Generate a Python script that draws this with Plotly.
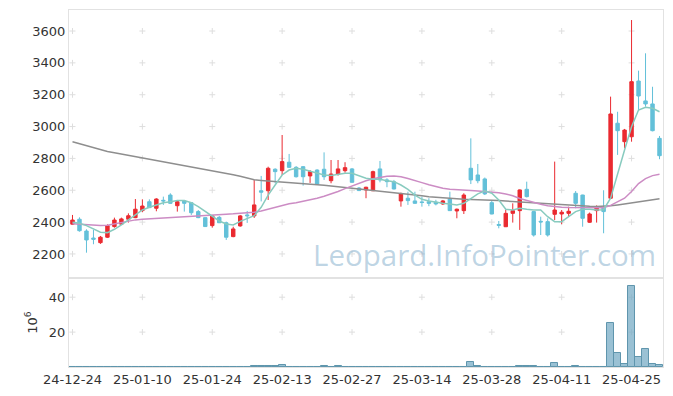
import plotly.graph_objects as go

dates = ["24-12-24","24-12-26","24-12-27","24-12-30","25-01-02","25-01-03","25-01-06","25-01-07","25-01-08","25-01-09",
         "25-01-10","25-01-13","25-01-14","25-01-15","25-01-16","25-01-17","25-01-20","25-01-21","25-01-22","25-01-23",
         "25-01-24","25-01-31","25-02-03","25-02-04","25-02-05","25-02-06","25-02-07","25-02-10","25-02-11","25-02-12",
         "25-02-13","25-02-14","25-02-17","25-02-18","25-02-19","25-02-20","25-02-21","25-02-24","25-02-25","25-02-26",
         "25-02-27","25-02-28","25-03-04","25-03-05","25-03-06","25-03-07","25-03-10","25-03-11","25-03-12","25-03-13",
         "25-03-14","25-03-17","25-03-18","25-03-19","25-03-20","25-03-21","25-03-24","25-03-25","25-03-26","25-03-27",
         "25-03-28","25-03-31","25-04-01","25-04-02","25-04-03","25-04-04","25-04-07","25-04-08","25-04-09","25-04-10",
         "25-04-11","25-04-14","25-04-15","25-04-16","25-04-17","25-04-18","25-04-21","25-04-22","25-04-23","25-04-24",
         "25-04-25","25-04-28","25-04-29","25-04-30","25-05-02"]

open_ = [2387,2418,2344,2300,2271,2305,2372,2387,2418,2428,
         2472,2528,2487,2537,2570,2503,2533,2522,2466,2428,
         2378,2430,2396,2309,2376,2445,2439,2597,2597,2732,
         2723,2776,2744,2748,2690,2727,2732,2660,2700,2723,
         2734,2614,2602,2597,2734,2665,2654,2533,2550,2533,
         2527,2528,2525,2514,2545,2470,2472,2738,2696,2671,
         2522,2385,2371,2455,2472,2606,2466,2405,2403,2449,
         2451,2455,2581,2570,2399,2472,2493,2550,3021,2905,
         2936,3286,3161,3142,2926]
high = [2445,2430,2355,2351,2313,2386,2428,2428,2455,2545,
        2543,2543,2550,2560,2581,2539,2539,2525,2476,2430,
        2445,2439,2403,2371,2445,2470,2665,2690,2748,2738,
        2947,2828,2752,2752,2727,2732,2838,2790,2790,2776,
        2740,2620,2622,2723,2784,2675,2665,2585,2591,2591,
        2560,2550,2540,2539,2591,2485,2581,2926,2765,2680,
        2539,2407,2476,2518,2605,2654,2470,2434,2424,2780,
        2476,2497,2595,2572,2460,2505,2600,3188,3093,2985,
        3669,3351,3460,3250,2941]
low = [2385,2340,2208,2261,2263,2300,2365,2385,2397,2425,
       2462,2488,2468,2508,2515,2466,2466,2445,2425,2370,
       2365,2394,2288,2305,2371,2395,2426,2530,2539,2644,
       2696,2740,2680,2629,2646,2636,2665,2644,2692,2710,
       2648,2595,2550,2595,2650,2619,2605,2497,2508,2515,
       2497,2500,2505,2508,2470,2424,2451,2639,2644,2570,
       2449,2361,2369,2397,2351,2555,2309,2319,2309,2413,
       2387,2434,2487,2371,2395,2397,2330,2545,2822,2864,
       2905,3104,3125,2970,2795]
close = [2413,2346,2288,2292,2305,2378,2413,2420,2440,2481,
         2501,2491,2545,2533,2518,2528,2518,2459,2428,2372,
         2439,2396,2305,2357,2439,2440,2508,2588,2738,2717,
         2780,2744,2685,2685,2717,2638,2685,2702,2734,2742,
         2650,2598,2619,2717,2665,2654,2608,2577,2535,2518,
         2523,2518,2514,2533,2472,2481,2570,2665,2660,2577,
         2451,2380,2455,2472,2602,2560,2319,2401,2319,2476,
         2462,2468,2518,2424,2451,2493,2466,3079,2974,2978,
         3282,3192,3142,2974,2817]

ma5 = [2399,2393,2378,2355,2336,2334,2355,2382,2413,2445,
       2476,2493,2508,2522,2528,2535,2535,2522,2497,2466,
       2434,2407,2388,2382,2405,2425,2440,2493,2570,2633,
       2696,2727,2738,2732,2721,2707,2696,2692,2700,2707,
       2707,2690,2675,2669,2669,2660,2654,2633,2606,2570,
       2543,2533,2525,2518,2514,2508,2518,2550,2577,2596,
       2581,2539,2481,2476,2487,2481,2476,2476,2434,2403,
       2403,2434,2466,2481,2481,2476,2478,2550,2707,2853,
       2999,3104,3121,3115,3093]
ma20 = [2390,2387,2384,2381,2378,2380,2388,2398,2408,2414,
        2418,2421,2424,2427,2430,2433,2435,2438,2441,2443,
        2445,2448,2450,2452,2455,2458,2462,2470,2482,2495,
        2506,2515,2522,2530,2540,2550,2562,2575,2592,2610,
        2627,2645,2660,2672,2682,2688,2690,2685,2674,2663,
        2648,2635,2623,2613,2606,2602,2600,2598,2596,2592,
        2590,2585,2577,2565,2548,2535,2524,2512,2503,2497,
        2493,2491,2490,2489,2488,2488,2490,2505,2525,2550,
        2592,2642,2673,2692,2700]
ma120 = [2905,2892,2880,2868,2855,2843,2835,2827,2820,2812,
         2805,2797,2788,2778,2770,2762,2754,2746,2738,2730,
         2722,2714,2706,2698,2688,2676,2666,2662,2659,2656,
         2653,2650,2647,2644,2640,2635,2631,2626,2622,2618,
         2614,2609,2604,2599,2594,2589,2585,2580,2575,2570,
         2565,2560,2556,2552,2549,2546,2544,2542,2541,2540,
         2538,2535,2532,2529,2526,2523,2520,2517,2514,2511,
         2508,2505,2503,2501,2499,2498,2498,2502,2508,2515,
         2522,2529,2535,2541,2547]

volume = [0,0,0,0,0,0,0,0,0,0,
          0,0,0,0,0,0,0,0,0,0,
          0,0,0,0,0,0,0.7,0.7,0.7,0.7,
          1.3,0,0,0,0,0,0.7,0,0.7,0,
          0,0,0,0,0,0,0,0,0,0,
          0,0,0,0,0,0,0,3.0,0.7,0,
          0,0,0,0,0.7,0.7,0.7,0,0,2.5,
          0,0,0.7,0,0,0,0,25.1,8.0,1.7,
          46.5,5.7,10.3,1.7,1.3]

price_ticks = [2200, 2400, 2600, 2800, 3000, 3200, 3400, 3600]
volume_ticks = [20, 40]
tick_dates = dates[::10]

RED = "#ea2a30"
BLUE = "#63c0d9"
FONT = "DejaVu Sans"
TXT = "#333333"

fig = go.Figure()

fig.add_trace(go.Candlestick(
    x=dates, open=open_, high=high, low=low, close=close,
    increasing=dict(line=dict(color=RED, width=1), fillcolor=RED),
    decreasing=dict(line=dict(color=BLUE, width=1), fillcolor=BLUE),
    whiskerwidth=0, showlegend=False, xaxis="x", yaxis="y"))

fig.add_trace(go.Scatter(x=dates, y=ma120, mode="lines", line=dict(color="#8e8e8e", width=1.5),
                         showlegend=False, xaxis="x", yaxis="y"))
fig.add_trace(go.Scatter(x=dates, y=ma20, mode="lines", line=dict(color="#cc8cc4", width=1.5),
                         showlegend=False, xaxis="x", yaxis="y"))
fig.add_trace(go.Scatter(x=dates, y=ma5, mode="lines", line=dict(color="#88cbbf", width=1.5),
                         showlegend=False, xaxis="x", yaxis="y"))

fig.add_trace(go.Bar(x=dates, y=volume,
                     marker=dict(color="rgba(120,172,198,0.75)", line=dict(color="#5f95ad", width=1)),
                     showlegend=False, xaxis="x2", yaxis="y2"))

# grid crosses at tick intersections, drawn below the data
cross_shapes = []
for xr, yr, yticks in (("x", "y", price_ticks), ("x2", "y2", volume_ticks)):
    for d in tick_dates:
        for v in yticks:
            cross_shapes.append(dict(
                type="path", xref=xr, yref=yr, xsizemode="pixel", ysizemode="pixel",
                xanchor=d, yanchor=v, path="M-3,0 L3,0 M0,-3 L0,3",
                line=dict(color="#dedede", width=1), layer="below"))

split = 0.2493
axis_common = dict(type="category", categoryorder="array", categoryarray=dates,
                   range=[-0.5, 84.5], showgrid=False, zeroline=False,
                   showline=True, mirror=True, linecolor="#e2e2e2", linewidth=1, fixedrange=True,
                   automargin=False, tickangle=0)

fig.update_layout(
    width=657, height=380,
    margin=dict(l=61, r=2, t=2, b=21),
    paper_bgcolor="white", plot_bgcolor="white",
    bargap=0,
    font=dict(family=FONT, size=13, color=TXT),
    shapes=cross_shapes,
    xaxis=dict(**axis_common, anchor="y", domain=[0, 1], showticklabels=False,
               rangeslider=dict(visible=False), tickvals=tick_dates),
    xaxis2=dict(**axis_common, anchor="y2", domain=[0, 1], matches="x",
                tickvals=tick_dates, ticktext=tick_dates,
                tickfont=dict(family=FONT, size=13, color=TXT)),
    yaxis=dict(domain=[split, 1], range=[2049, 3732], tickvals=price_ticks, automargin=False,
               showgrid=False, zeroline=False, showline=True, mirror=True,
               linecolor="#e2e2e2", tickfont=dict(family=FONT, size=13, color=TXT)),
    yaxis2=dict(domain=[0, split], range=[0, 51], tickvals=volume_ticks, automargin=False,
                showgrid=False, zeroline=False, showline=True, mirror=True,
                linecolor="#e2e2e2", tickfont=dict(family=FONT, size=13, color=TXT),
                title=dict(text="10<sup>6</sup>", standoff=8,
                           font=dict(family=FONT, size=13, color=TXT))),
    annotations=[dict(text="Leopard.InfoPointer.com", xref="paper", yref="paper",
                      x=0.6987, y=0.3165, xanchor="center", yanchor="middle", showarrow=False,
                      font=dict(family="Open Sans", size=29.5, color="rgba(110,160,195,0.45)"))],
)

fig.write_html("out.html")
